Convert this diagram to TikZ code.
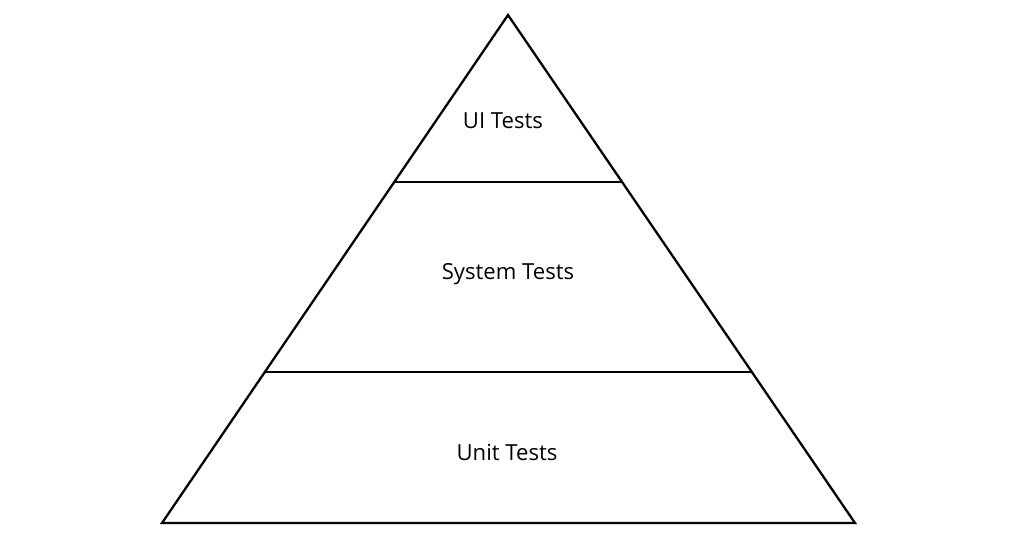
\documentclass[tikz,border=0pt]{standalone}
\usepackage{fontspec}
\setmainfont{Open Sans}
\usetikzlibrary {positioning,calc}

\begin{document}
\begin{tikzpicture}[x=0.02cm ,y=-0.02cm ,line width=1.3pt ,line join=miter]
			 \useasboundingbox (0,0) rectangle (1010,532);
			 \coordinate (APEX) at (508,15);
			 \coordinate (BL) at (162,523);
			 \coordinate (BR) at (855,523);
			 \coordinate (L1) at ($(APEX)!0.3287!(BL)$);
			 \coordinate (R1) at ($(APEX)!0.3287!(BR)$);
			 \coordinate (L2) at ($(APEX)!0.7028!(BL)$);
			 \coordinate (R2) at ($(APEX)!0.7028!(BR)$);
			 \node [font=\fontsize{12.6}{15}\selectfont] (UI) at (503,121) {UI Tests};
			 \node [font=\fontsize{12.6}{15}\selectfont] (SYSTEM) at (508,274) {System Tests};
			 \node [font=\fontsize{12.6}{15}\selectfont] (UNIT) at (507,452) {Unit Tests};
			 \draw (APEX) -- (BR) -- (BL) -- cycle;
			 \draw (L1) -- (R1);
			 \draw (L2) -- (R2);
		\end{tikzpicture}
\end{document}
